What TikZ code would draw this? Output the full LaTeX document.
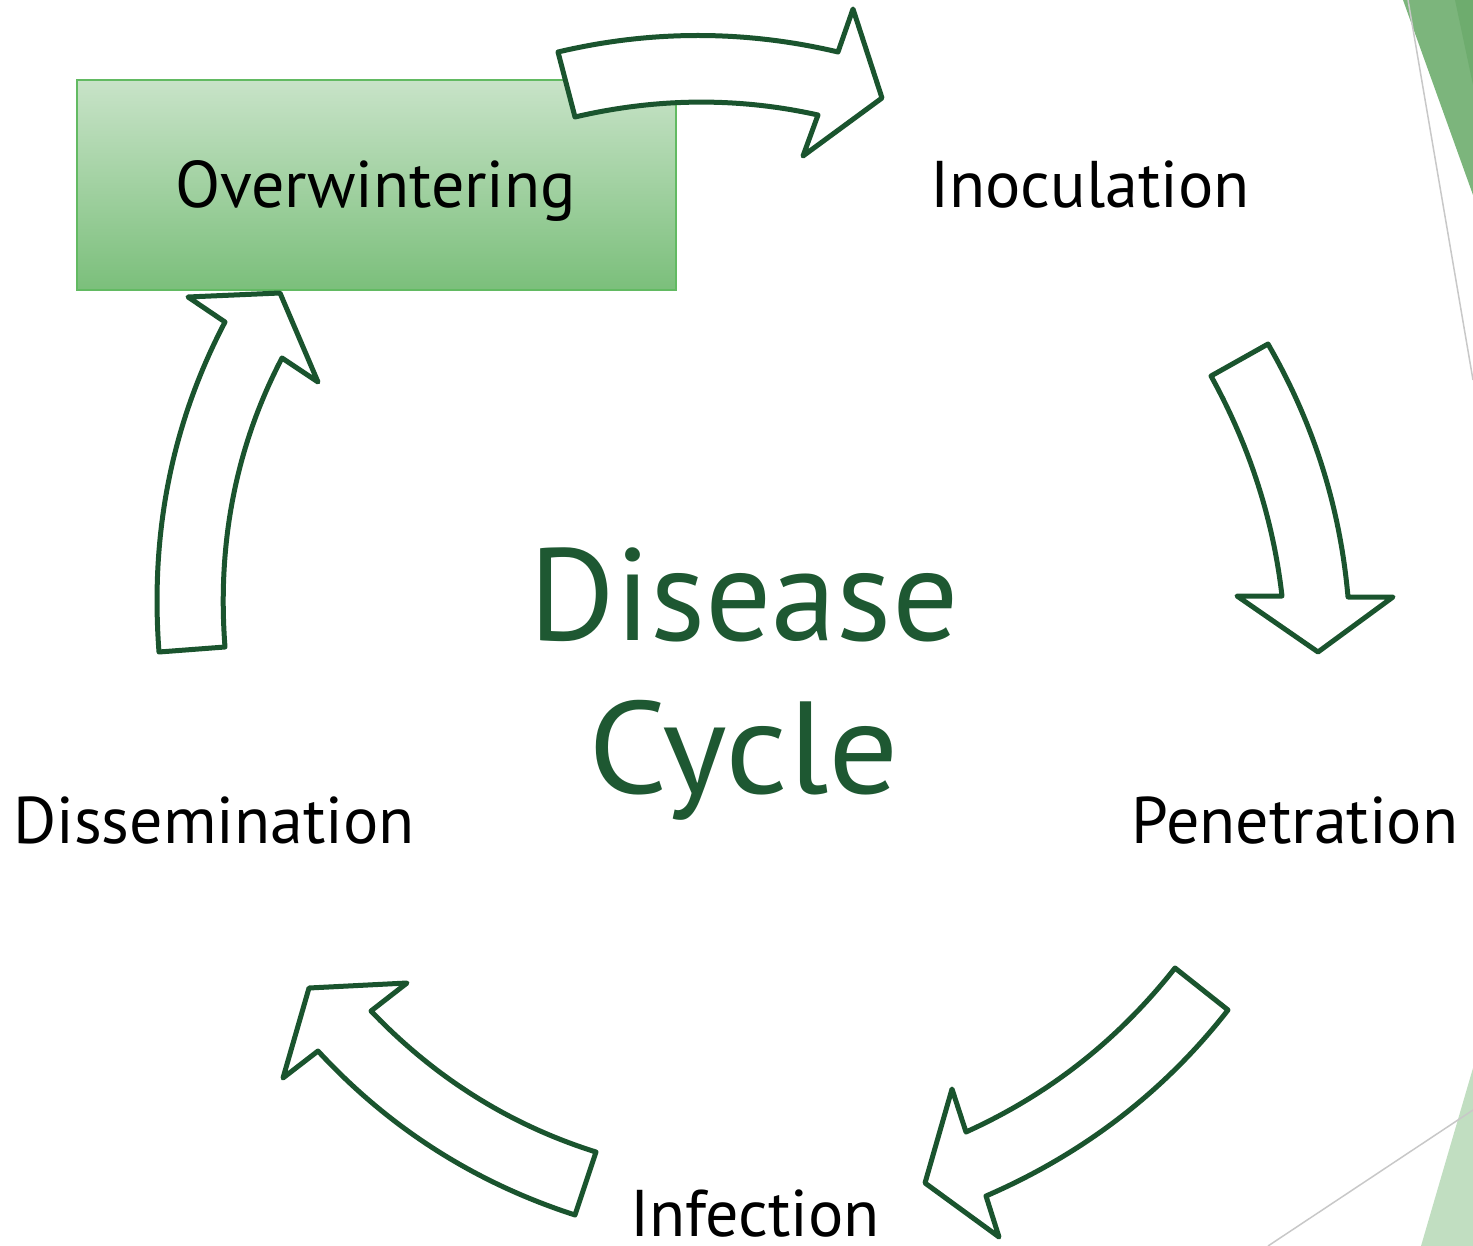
\documentclass[tikz,border=0pt]{standalone}
\usepackage{fontspec}
\setmainfont{PT Sans}
\usetikzlibrary{positioning}
\definecolor{arrowgreen}{RGB}{26,84,46}
\definecolor{titlegreen}{RGB}{30,88,50}
\definecolor{boxtop}{RGB}{200,227,200}
\definecolor{boxbottom}{RGB}{123,191,123}
\definecolor{boxline}{RGB}{98,186,98}
\definecolor{facetmid}{RGB}{124,181,124}
\definecolor{facetdark}{RGB}{110,172,110}
\definecolor{facetlight}{RGB}{193,222,193}
\definecolor{linegrey}{RGB}{200,200,200}

\tikzset{
  cyclearrow/.style={draw=arrowgreen, line width=5, fill=white, line join=round},
  steplabel/.style={anchor=base, inner sep=0pt, text depth=0pt, font=\fontsize{66}{72}\selectfont},
  titlelabel/.style={anchor=base, inner sep=0pt, text=titlegreen, font=\fontsize{131}{140}\selectfont},
}

\begin{document}
\begin{tikzpicture}[x=1pt,y=-1pt]
    \useasboundingbox (0,0) rectangle (1473,1246);

    % facet corners
    \fill[facetmid] (1403,0) -- (1473,0) -- (1473,195) -- cycle;
    \fill[facetdark] (1455,0) -- (1473,0) -- (1473,85) -- cycle;
    \draw[linegrey, line width=1.5] (1408,0) -- (1473,380);
    \fill[facetlight] (1473,1068) -- (1421,1246) -- (1473,1246) -- cycle;
    \draw[linegrey, line width=1.5] (1268,1246) -- (1473,1110);

    % the five stages
    \node[draw=boxline, line width=2, top color=boxtop, bottom color=boxbottom,
          minimum width=599, minimum height=210] (box) at (376.5,185) {};
    \node[steplabel] (overw) at (376,208) {Overwintering};
    \node[steplabel] (inoc) at (1090,208) {Inoculation};
    \node[steplabel] (penet) at (1295,843) {Penetration};
    \node[steplabel] (infect) at (755,1236) {Infection};
    \node[steplabel] (dissem) at (214,843) {Dissemination};

    \node[titlelabel] (disease) at (744,640) {Disease};
    \node[titlelabel, xscale=1.06] (cycle) at (744,793) {Cycle};

    % arrows round the cycle
    \draw[cyclearrow] (558,52) .. controls (651,30) and (745,30) .. (838,52) -- (853,9) -- (882,98)
        -- (803,156) -- (818,115) .. controls (737,97) and (656,98) .. (575,117) -- cycle;
    \draw[cyclearrow] (1268,344) .. controls (1313,422) and (1340,506) .. (1348,597) -- (1393,597)
        -- (1318,652) -- (1237,596) -- (1282,596) .. controls (1273,518) and (1249,445) .. (1211,376) -- cycle;
    \draw[cyclearrow] (1228,1010) .. controls (1164,1092) and (1083,1154) .. (986,1196) -- (999,1237)
        -- (925,1183) -- (952,1089) -- (966,1132) .. controls (1050,1094) and (1119,1039) .. (1175,968) -- cycle;
    \draw[cyclearrow] (575,1215) .. controls (476,1183) and (390,1129) .. (318,1051) -- (283,1078)
        -- (309,988) -- (407,983) -- (371,1011) .. controls (435,1078) and (510,1125) .. (596,1152) -- cycle;
    \draw[cyclearrow] (159,652) .. controls (150,533) and (172,423) .. (225,322) -- (188,297)
        -- (280,293) -- (318,382) -- (282,358) .. controls (236,446) and (217,543) .. (225,647) -- cycle;
\end{tikzpicture}
\end{document}
